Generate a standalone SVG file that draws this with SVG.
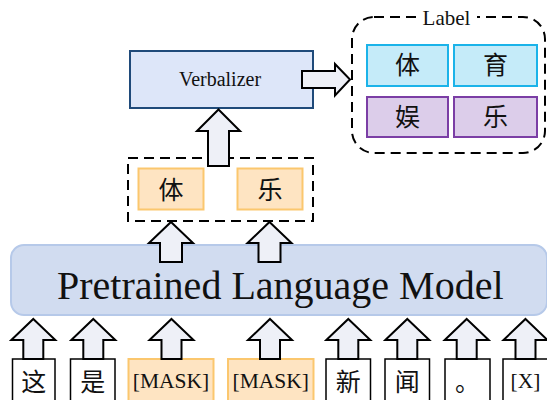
<svg xmlns="http://www.w3.org/2000/svg" width="547" height="400" viewBox="0 0 547 400">
<style>
.serif{font-family:"Liberation Serif","Noto Sans CJK SC",serif;fill:#111}
.cjk{font-family:"Noto Sans CJK SC","Liberation Serif",sans-serif;fill:#111;font-size:25px}
.arrow{fill:#eef0f7;stroke:#000;stroke-width:2;stroke-linejoin:miter}
.dash{fill:none;stroke:#000;stroke-width:2;stroke-dasharray:10 6}
.orange{fill:#fee4c2;stroke:#fbc76e;stroke-width:2}
.cyan{fill:#c5ebf9;stroke:#1bb3e9;stroke-width:2}
.purple{fill:#dccdea;stroke:#7b3ea5;stroke-width:2}
.tok{fill:#fff;stroke:#000;stroke-width:1.5}
</style>
<defs>
<path id="upa" d="M0,0 L22,21 L10,21 L10,40 L-10,40 L-10,21 L-22,21 Z"/>
</defs>

<g id="plm">
<rect x="11" y="245" width="536" height="70" rx="13" fill="#d1dcf0" stroke="#b6c9e9" stroke-width="2"/>
<text class="serif" x="57" y="299" font-size="40">Pretrained Language Model</text>
</g>

<g id="verbalizer">
<rect x="130" y="51" width="183" height="57" fill="#dde6f9" stroke="#1f4a7a" stroke-width="2"/>
<text class="serif" x="220" y="86" font-size="20" text-anchor="middle">Verbalizer</text>
</g>

<g id="label-group">
<rect class="dash" x="352" y="17" width="193" height="136" rx="22"/>
<rect x="416" y="8" width="61" height="18" fill="#fff"/>
<text class="serif" x="446.5" y="25" font-size="21" text-anchor="middle">Label</text>
<g id="label-ti">
<rect class="cyan" x="367" y="45" width="81" height="41"/>
<text class="cjk" x="407.5" y="74" text-anchor="middle">体</text>
</g>
<g id="label-yu">
<rect class="cyan" x="454" y="45" width="83" height="41"/>
<text class="cjk" x="495.5" y="74" text-anchor="middle">育</text>
</g>
<g id="label-yu2">
<rect class="purple" x="367" y="97" width="81" height="40"/>
<text class="cjk" x="407.5" y="126" text-anchor="middle">娱</text>
</g>
<g id="label-le">
<rect class="purple" x="454" y="97" width="83" height="40"/>
<text class="cjk" x="495.5" y="126" text-anchor="middle">乐</text>
</g>
</g>

<g id="answers">
<rect class="dash" x="128" y="158" width="185" height="63"/>
<g id="ans-ti">
<rect class="orange" x="138.5" y="168.5" width="65" height="41"/>
<text class="cjk" x="171" y="199" text-anchor="middle">体</text>
</g>
<g id="ans-le">
<rect class="orange" x="237.5" y="168.5" width="65" height="41"/>
<text class="cjk" x="270" y="199" text-anchor="middle">乐</text>
</g>
</g>

<g id="tokens">
<g id="t1"><rect class="tok" x="12.5" y="359" width="42.5" height="45"/><text class="cjk" x="33.7" y="391" font-size="26" text-anchor="middle">这</text></g>
<g id="t2"><rect class="tok" x="70.5" y="359" width="44.5" height="45"/><text class="cjk" x="92.7" y="391" font-size="26" text-anchor="middle">是</text></g>
<g id="t3"><rect class="orange" x="128.5" y="359" width="85" height="45"/><text class="serif" x="171" y="388" font-size="21.5" text-anchor="middle">[MASK]</text></g>
<g id="t4"><rect class="orange" x="228" y="359" width="85.5" height="45"/><text class="serif" x="270.7" y="388" font-size="21.5" text-anchor="middle">[MASK]</text></g>
<g id="t5"><rect class="tok" x="326" y="359" width="44.5" height="45"/><text class="cjk" x="348.3" y="391" font-size="26" text-anchor="middle">新</text></g>
<g id="t6"><rect class="tok" x="385" y="359" width="44.5" height="45"/><text class="cjk" x="407.2" y="391" font-size="26" text-anchor="middle">闻</text></g>
<g id="t7"><rect class="tok" x="445" y="359" width="45" height="45"/><text class="cjk" x="467.5" y="391" font-size="26" text-anchor="middle">。</text></g>
<g id="t8"><rect class="tok" x="503" y="359" width="46" height="45"/><text class="serif" x="525.5" y="388" font-size="21.5" text-anchor="middle">[X]</text></g>
</g>

<g id="connectors">
<use href="#upa" class="arrow" x="33.3" y="319"/>
<use href="#upa" class="arrow" x="93.3" y="319"/>
<use href="#upa" class="arrow" x="171.5" y="319"/>
<use href="#upa" class="arrow" x="270" y="319"/>
<use href="#upa" class="arrow" x="348.3" y="319"/>
<use href="#upa" class="arrow" x="407.3" y="319"/>
<use href="#upa" class="arrow" x="466.7" y="319"/>
<use href="#upa" class="arrow" x="525.5" y="319"/>
<path class="arrow" d="M171,222 L193,243 L182,243 L182,262 L160,262 L160,243 L149,243 Z"/>
<path class="arrow" d="M269.5,222 L291.5,243 L280.5,243 L280.5,262 L258.5,262 L258.5,243 L247.5,243 Z"/>
<path class="arrow" d="M218.5,109.5 L240,131 L229,131 L229,166 L208,166 L208,131 L197,131 Z"/>
<path class="arrow" d="M302,71 L335,71 L335,64 L350,79.5 L335,95.5 L335,88 L302,88 Z"/>
</g>
</svg>
